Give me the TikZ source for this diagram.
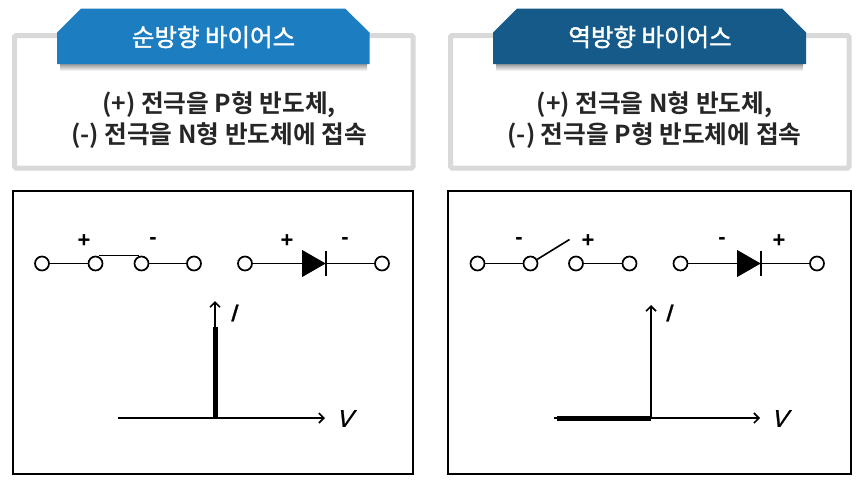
\documentclass[tikz,border=0pt]{standalone}
\usepackage{fontspec}
\setmainfont{Liberation Sans}
\newfontfamily\krfont[FakeBold=1.6]{Noto Sans CJK KR}
\newfontfamily\krbold{Noto Sans CJK KR Bold}
\newfontfamily\axfont[FakeSlant=0.3,FakeBold=1]{Liberation Sans}
\usepackage{xcolor}
\usetikzlibrary{shapes.geometric, arrows.meta, calc}
\definecolor{fwdblue}{HTML}{1C7DC0}
\definecolor{revblue}{HTML}{155A88}
\definecolor{framegray}{HTML}{D9D9D9}
\definecolor{bodyink}{HTML}{262626}

\begin{document}
\begin{tikzpicture}[
  x=1pt, y=-1pt,
  frame/.style={draw=framegray, line width=5pt, rounded corners=1.5pt},
  tabshade/.style={top color=black!40, bottom color=white, draw=none},
  title/.style={font=\krfont\fontsize{24.5}{28}\selectfont, text=white, inner sep=0pt},
  body/.style={font=\krbold\fontsize{24.7}{31}\selectfont, text=bodyink, align=center, inner sep=0pt},
  panel/.style={draw=black, line width=1.5pt},
  term/.style={draw=black, circle, line width=1.7pt, fill=white, minimum size=14pt, inner sep=0pt},
  diode/.style={isosceles triangle, isosceles triangle stretches, fill=black,
                minimum width=27pt, minimum height=23.5pt, inner sep=0pt},
  sign/.style={font=\bfseries\fontsize{22}{22}\selectfont, inner sep=0pt},
  axlabel/.style={font=\axfont\fontsize{24}{24}\selectfont, inner sep=0pt},
  wire/.style={line width=1.6pt},
  ax/.style={line width=1.6pt, -{Straight Barb[length=5pt, width=10pt]}},
  bar/.style={line width=5pt}
]
\useasboundingbox (0,0) rectangle (865,496);

% forward bias
\draw[frame] (14.5,35.5) rectangle (413,168);
\shade[tabshade] (60,64) rectangle (367,71);
\fill[fwdblue] (57,32.5) -- (81,8.5) -- (345,8.5) -- (369.5,32.5) -- (369.5,64) -- (57,64) -- cycle;
\node[title] at (213.5,37) (f-title) {순방향 바이어스};
\node[body] at (219,120) (f-body) {(+) 전극을 P형 반도체,\\(-) 전극을 N형 반도체에 접속};
\node[panel, minimum width=400pt, minimum height=283pt, inner sep=0pt] at (213,332.5) (f-panel) {};

\node[term] at (42,263.5)    (f-a) {};
\node[term] at (95.5,263.5)  (f-b) {};
\node[term] at (141.5,263.5) (f-c) {};
\node[term] at (194,263.5)   (f-d) {};
\draw[wire] (f-a) -- (f-b);
\draw[wire] (f-c) -- (f-d);
\draw[wire] ($(f-b.north)+(3,0)$) -- ($(f-c.north)+(-3,0)$);
\node[sign] at (84,241)  (f-plus)  {+};
\node[sign] at (153,241) (f-minus) {-};

\node[term] at (245,263.5) (fd-a) {};
\node[term] at (382,263.5) (fd-b) {};
\node[diode] at (310,263.5) (fd) {};
\draw[wire] (fd-a) -- (fd);
\draw[wire] (fd.apex) -- (fd-b);
\draw[wire] (fd.apex) ++(0,-12.5) -- ++(0,25);
\node[sign] at (287,241) (fd-plus)  {+};
\node[sign] at (345,241) (fd-minus) {-};

\coordinate (f-o) at (215,418);
\coordinate (f-left) at (118,418);
\coordinate (f-right) at (325,418);
\coordinate (f-top) at (215,301);
\coordinate (f-peak) at (215,327);
\draw[ax] (f-left) -- (f-right);
\draw[ax] (f-o) -- (f-top);
\draw[bar] (f-o) -- (f-peak);
\node[axlabel] at (232.5,313) (f-i) {I};
\node[axlabel] at (344,418.5) (f-v) {V};

% reverse bias
\draw[frame] (450.5,35.5) rectangle (849,168);
\shade[tabshade] (496,64) rectangle (803,71);
\fill[revblue] (493,32.5) -- (517,8.5) -- (782,8.5) -- (806,32.5) -- (806,64) -- (493,64) -- cycle;
\node[title] at (650,37) (r-title) {역방향 바이어스};
\node[body] at (654.5,120) (r-body) {(+) 전극을 N형 반도체,\\(-) 전극을 P형 반도체에 접속};
\node[panel, minimum width=403pt, minimum height=283pt, inner sep=0pt] at (649.5,332.5) (r-panel) {};

\node[term] at (477.5,263.5) (r-a) {};
\node[term] at (530.5,263.5) (r-b) {};
\node[term] at (576,263.5)   (r-c) {};
\node[term] at (629.5,263.5) (r-d) {};
\coordinate (r-tip) at (569.5,239.5);
\draw[wire] (r-a) -- (r-b);
\draw[wire] (r-c) -- (r-d);
\draw[wire] (r-b) -- (r-tip);
\node[sign] at (519,241) (r-minus) {-};
\node[sign] at (588,241) (r-plus)  {+};

\node[term] at (680.5,263.5) (rd-a) {};
\node[term] at (817,263.5)   (rd-b) {};
\node[diode] at (745,263.5) (rd) {};
\draw[wire] (rd-a) -- (rd);
\draw[wire] (rd.apex) -- (rd-b);
\draw[wire] (rd.apex) ++(0,-12.5) -- ++(0,25);
\node[sign] at (722,241) (rd-minus) {-};
\node[sign] at (779,241) (rd-plus)  {+};

\coordinate (r-o) at (651,418);
\coordinate (r-left) at (554,418);
\coordinate (r-right) at (760,418);
\coordinate (r-top) at (651,305);
\coordinate (r-tail) at (557,418);
\draw[ax] (r-left) -- (r-right);
\draw[ax] (r-o) -- (r-top);
\draw[bar] (r-tail) -- (r-o);
\node[axlabel] at (667.5,313) (r-i) {I};
\node[axlabel] at (779,418.5) (r-v) {V};
\end{tikzpicture}
\end{document}
